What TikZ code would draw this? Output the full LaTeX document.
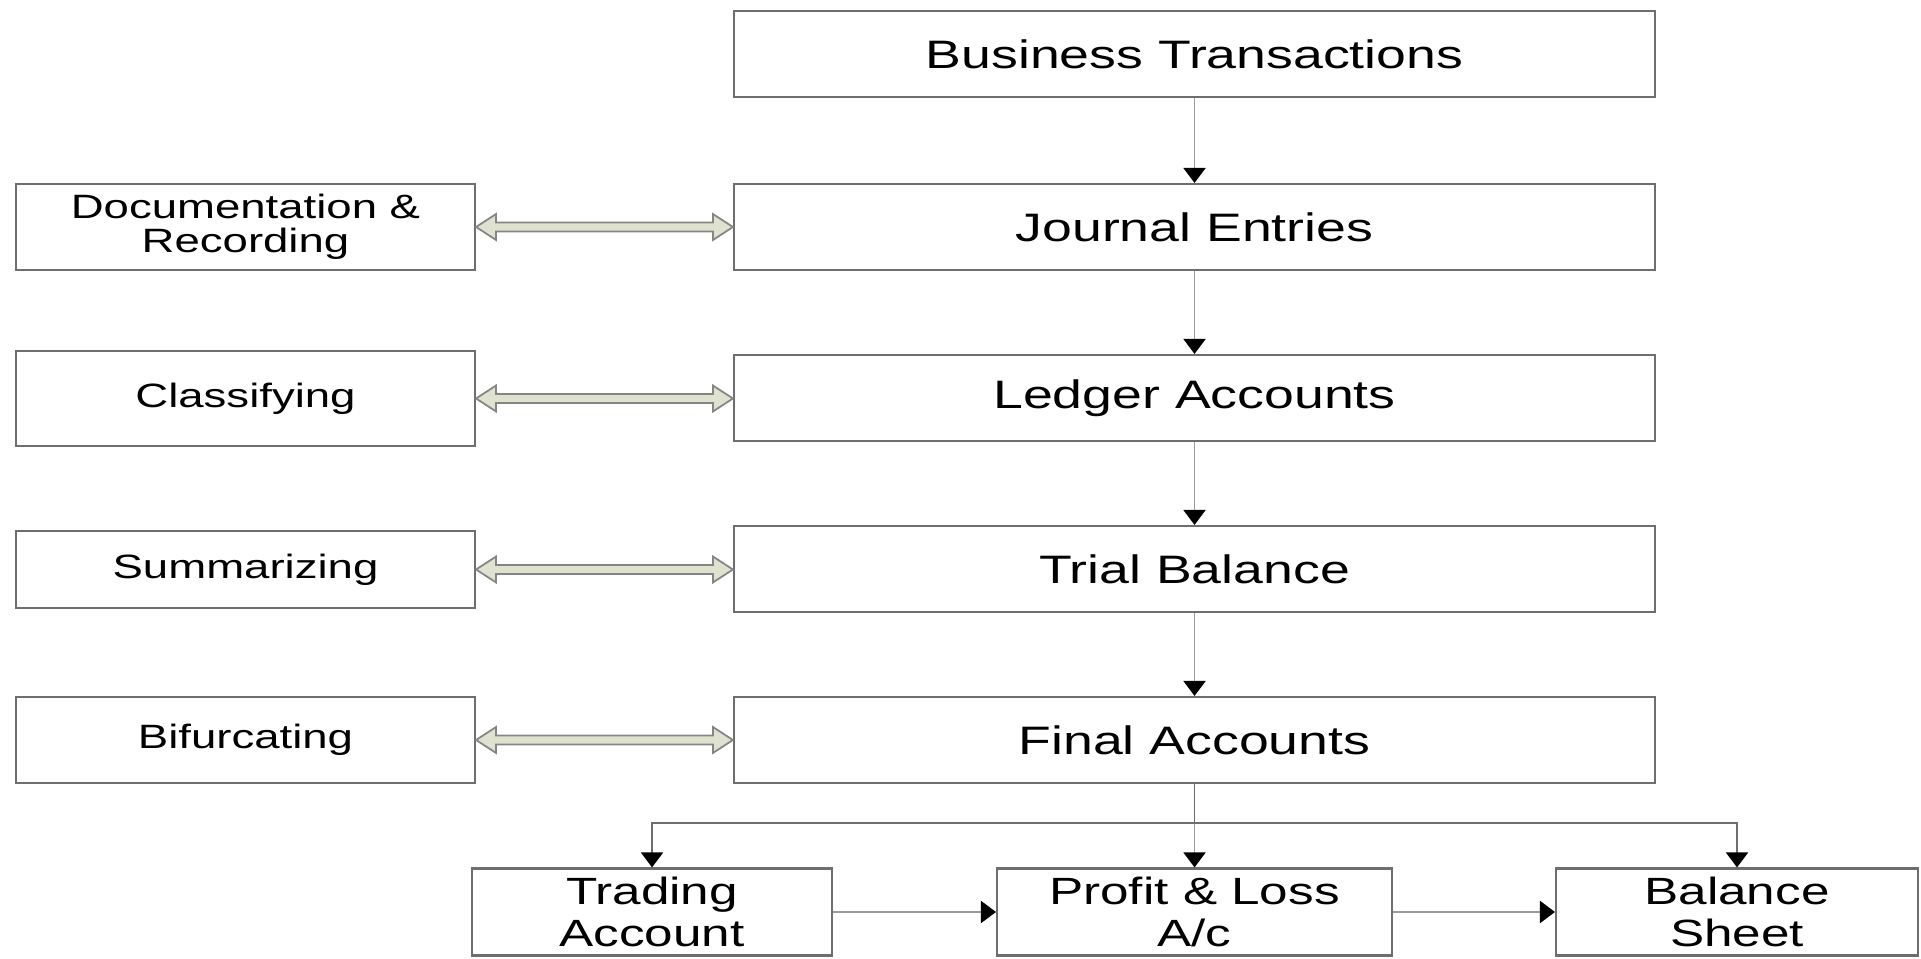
\documentclass[tikz,border=0pt]{standalone}
\usepackage{fontspec}
\newfontfamily\boxfont[FakeStretch=1.35]{Liberation Sans}
\usetikzlibrary{arrows.meta, calc}
\definecolor{edgegray}{HTML}{6E6E6E}
\definecolor{linkgray}{HTML}{9A9A9A}
\definecolor{dblfill}{HTML}{DEE2CE}
\definecolor{dbledge}{HTML}{858585}

\begin{document}
\begin{tikzpicture}[
	stage/.style = {draw = edgegray, line width = 0.6pt, inner sep = 0pt, minimum width = 9.21cm, minimum height = 0.86cm, font = \boxfont\fontsize{11.3}{13}\selectfont},
	task/.style = {draw = edgegray, line width = 0.6pt, inner sep = 0pt, minimum width = 4.59cm, minimum height = 0.86cm, align = center, font = \boxfont\fontsize{9.6}{9.6}\selectfont},
	result/.style = {draw = edgegray, line width = 0.6pt, inner sep = 0pt, minimum height = 0.87cm, align = center, font = \boxfont\fontsize{10.8}{11.9}\selectfont},
	flow/.style = {draw = linkgray, line width = 0.55pt, -{Triangle[width = 0.22cm, length = 0.15cm, color = black]}},
	twoway/.style = {draw = dbledge, fill = dblfill, line width = 0.5pt, line join = miter}
]

	\useasboundingbox (0, 0) rectangle (19.21, -9.59);

	% main chain
	\node[stage] (bt) at (11.945, -0.54) {Business Transactions};
	\node[stage] (je) at (11.945, -2.27) {Journal Entries};
	\node[stage] (la) at (11.945, -3.98) {Ledger Accounts};
	\node[stage] (tb) at (11.945, -5.69) {Trial Balance};
	\node[stage] (fa) at (11.945, -7.40) {Final Accounts};

	% steps on the left
	\node[task] (doc) at (2.455, -2.27) {Documentation \&\\Recording};
	\node[task, minimum height = 0.95cm] (cls) at (2.455, -3.985) {Classifying};
	\node[task, minimum height = 0.77cm] (sum) at (2.455, -5.695) {Summarizing};
	\node[task] (bif) at (2.455, -7.40) {Bifurcating};

	% final statements
	\node[result, minimum width = 3.60cm] (trd) at ( 6.520, -9.12) {Trading\\Account};
	\node[result, minimum width = 3.95cm] (pl)  at (11.945, -9.12) {Profit \& Loss\\A/c};
	\node[result, minimum width = 3.62cm] (bs)  at (17.370, -9.12) {Balance\\Sheet};

	\draw[flow] (bt) -- (je);
	\draw[flow] (je) -- (la);
	\draw[flow] (la) -- (tb);
	\draw[flow] (tb) -- (fa);

	\coordinate (split) at (11.945, -8.23);
	\draw[draw = edgegray, line width = 0.55pt] (fa.south) -- (split);
	\draw[flow] (split) -- (pl.north);
	\draw[flow, draw = edgegray] (split) -| (trd.north);
	\draw[flow, draw = edgegray] (split) -| (bs.north);

	\draw[flow] (trd) -- (pl);
	\draw[flow] (pl) -- (bs);

	% hollow double arrows
	\foreach \a/\b in {doc/je, cls/la, sum/tb, bif/fa}
		\draw[twoway] let \p1 = (\a.east), \p2 = (\b.west) in
			(\p1) -- ++(0.2, 0.13) -- ++(0, -0.085) -- (\x2 - 0.2cm, \y1 + 0.045cm) -- ++(0, 0.085) -- (\x2, \y1)
			-- ++(-0.2, -0.13) -- ++(0, 0.085) -- (\x1 + 0.2cm, \y1 - 0.045cm) -- ++(0, -0.085) -- cycle;

\end{tikzpicture}
\end{document}
